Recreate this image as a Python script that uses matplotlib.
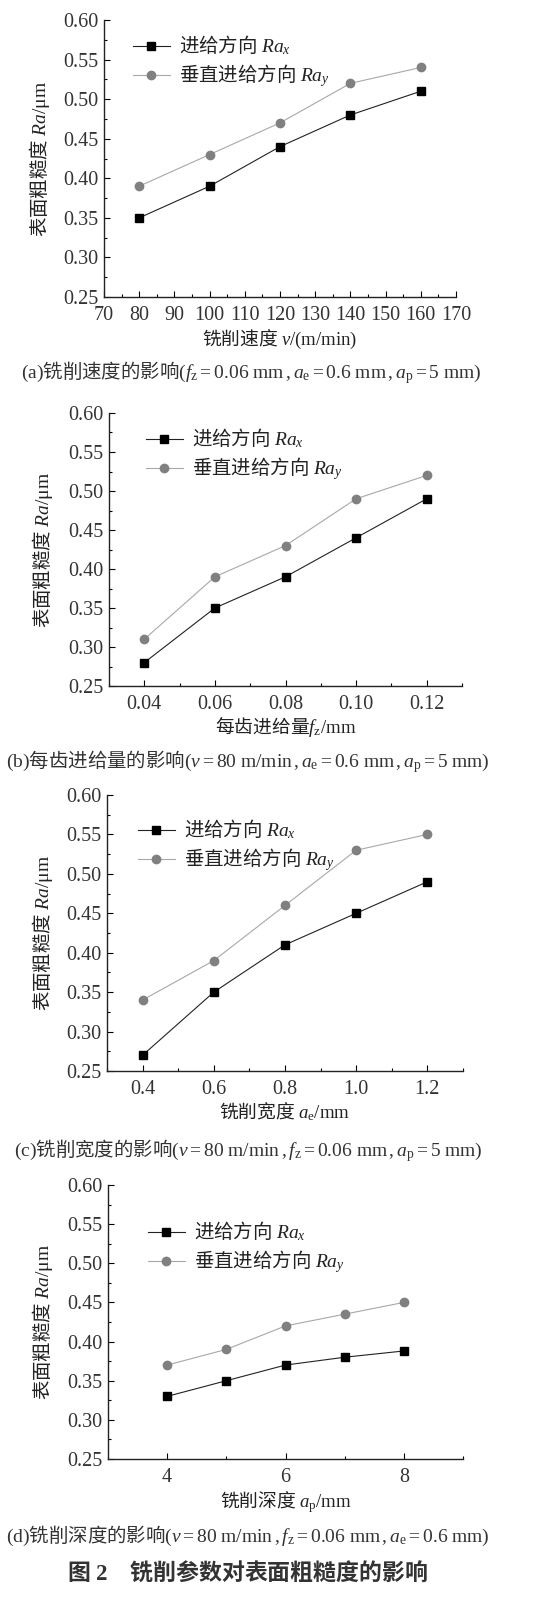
import matplotlib
matplotlib.use("Agg")
import matplotlib.pyplot as plt
from matplotlib.ticker import MultipleLocator, FormatStrFormatter

plt.rcParams['font.family'] = ['Noto Sans CJK SC', 'DejaVu Sans']
plt.rcParams['mathtext.fontset'] = 'custom'
plt.rcParams['mathtext.rm'] = 'Liberation Serif'
plt.rcParams['mathtext.it'] = 'Liberation Serif:italic'
plt.rcParams['mathtext.bf'] = 'Liberation Serif:bold'

# ---------------- data ----------------
v_speed = [80, 100, 120, 140, 160]
a_rax = [0.35, 0.39, 0.44, 0.48, 0.51]
a_ray = [0.39, 0.43, 0.47, 0.52, 0.54]

fz_feed = [0.04, 0.06, 0.08, 0.10, 0.12]
b_rax = [0.28, 0.35, 0.39, 0.44, 0.49]
b_ray = [0.31, 0.39, 0.43, 0.49, 0.52]

ae_width = [0.4, 0.6, 0.8, 1.0, 1.2]
c_rax = [0.27, 0.35, 0.41, 0.45, 0.49]
c_ray = [0.34, 0.39, 0.46, 0.53, 0.55]

ap_depth = [4, 5, 6, 7, 8]
d_rax = [0.33, 0.35, 0.37, 0.38, 0.388]
d_ray = [0.37, 0.39, 0.42, 0.435, 0.45]

legend_labels = ["进给方向 $Ra_x$", "垂直进给方向 $Ra_y$"]
ylabel_text = "表面粗糙度 $Ra\\mathrm{/μm}$"
xlabels = ["铣削速度 $v\\mathrm{/(m/min)}$",
           "每齿进给量$f_\\mathrm{z}\\mathrm{/mm}$",
           "铣削宽度 $a_\\mathrm{e}\\mathrm{/mm}$",
           "铣削深度 $a_\\mathrm{p}\\mathrm{/mm}$"]
captions = ["$\\mathrm{(a)}$铣削速度的影响$\\mathrm{(}f_\\mathrm{z}\\mathrm{=0.06\\ mm\\,,}a_\\mathrm{e}\\mathrm{=0.6\\ mm\\,,}a_\\mathrm{p}\\mathrm{=5\\ mm)}$",
            "$\\mathrm{(b)}$每齿进给量的影响$\\mathrm{(}v\\mathrm{=80\\ m/min\\,,}a_\\mathrm{e}\\mathrm{=0.6\\ mm\\,,}a_\\mathrm{p}\\mathrm{=5\\ mm)}$",
            "$\\mathrm{(c)}$铣削宽度的影响$\\mathrm{(}v\\mathrm{=80\\ m/min\\,,}f_\\mathrm{z}\\mathrm{=0.06\\ mm\\,,}a_\\mathrm{p}\\mathrm{=5\\ mm)}$",
            "$\\mathrm{(d)}$铣削深度的影响$\\mathrm{(}v\\mathrm{=80\\ m/min\\,,}f_\\mathrm{z}\\mathrm{=0.06\\ mm\\,,}a_\\mathrm{e}\\mathrm{=0.6\\ mm)}$"]
fig_title = "图 $\\mathbf{2}$　铣削参数对表面粗糙度的影响"

panels = [
    dict(x=v_speed, rx=a_rax, ry=a_ray, xlim=(70, 170), major=10, minor=5, fmt="%d",
         box=(104, 456, 20, 297), leg=(133, 34), ylab_x=40, xlab_y=339, cap=(251, 373)),
    dict(x=fz_feed, rx=b_rax, ry=b_ray, xlim=(0.03, 0.13), major=0.02, minor=0.01, fmt="%.2f",
         box=(109, 462, 413, 686), leg=(146, 427), ylab_x=43, xlab_y=727, cap=(248, 762)),
    dict(x=ae_width, rx=c_rax, ry=c_ray, xlim=(0.3, 1.3), major=0.2, minor=0.1, fmt="%.1f",
         box=(107, 463, 795, 1071), leg=(138, 818), ylab_x=43, xlab_y=1112, cap=(248, 1151)),
    dict(x=ap_depth, rx=d_rax, ry=d_ray, xlim=(3, 9), major=2, minor=1, fmt="%d",
         box=(108, 463, 1185, 1459), leg=(148, 1220), ylab_x=43, xlab_y=1502, cap=(248, 1536)),
]

W, H = 550, 1600
fig = plt.figure(figsize=(W / 100, H / 100), dpi=100)

for i, p in enumerate(panels):
    l, r, t, b = p["box"]
    ax = fig.add_axes([l / W, 1 - b / H, (r - l) / W, (b - t) / H])
    ax.plot(p["x"], p["rx"], color="#222222", lw=0.8, marker="s", ms=6,
            mfc="black", mec="black", label=legend_labels[0])
    ax.plot(p["x"], p["ry"], color="#a8a8a8", lw=0.8, marker="o", ms=6,
            mfc="#808080", mec="#808080", label=legend_labels[1])
    ax.set_xlim(*p["xlim"])
    ax.set_ylim(0.25, 0.60)
    ax.xaxis.set_major_locator(MultipleLocator(p["major"]))
    ax.xaxis.set_minor_locator(MultipleLocator(p["minor"]))
    ax.xaxis.set_major_formatter(FormatStrFormatter(p["fmt"]))
    ax.yaxis.set_major_locator(MultipleLocator(0.05))
    ax.yaxis.set_minor_locator(MultipleLocator(0.025))
    ax.yaxis.set_major_formatter(FormatStrFormatter("%.2f"))
    for s in ("top", "right"):
        ax.spines[s].set_visible(False)
    for s in ("left", "bottom"):
        ax.spines[s].set_linewidth(1.0)
        ax.spines[s].set_color("#222222")
    ax.tick_params(which="major", direction="in", length=4, width=0.8, labelsize=14.5)
    ax.tick_params(axis="y", which="major", pad=4)
    ax.tick_params(axis="x", which="major", pad=6.5)
    ax.tick_params(which="minor", direction="in", length=2, width=0.8)
    for lab in ax.get_xticklabels() + ax.get_yticklabels():
        lab.set_family("Liberation Serif")
        lab.set_color("#333333")
    ax.set_ylabel(ylabel_text, fontsize=14, color="#222222", va="center")
    ax.yaxis.set_label_coords((p["ylab_x"] - l) / (r - l), 0.5)
    ax.set_xlabel(xlabels[i], fontsize=13.5, color="#222222", va="center")
    ax.xaxis.set_label_coords(0.5, -(p["xlab_y"] - b) / (b - t))
    lx, ly = p["leg"]
    ax.legend(loc="upper left", bbox_to_anchor=((lx - l) / (r - l), 1 - (ly - t) / (b - t)),
              frameon=False, fontsize=14, borderpad=0, borderaxespad=0,
              handlelength=1.9, handletextpad=0.45, labelspacing=0.25, labelcolor="#222222")
    cx, cy = p["cap"]
    fig.text(cx / W, 1 - cy / H, captions[i], fontsize=14,
             ha="center", va="center", color="#333333")

fig.text(248 / W, 1 - 1572 / H, fig_title, fontsize=16.5, fontweight="bold",
         ha="center", va="center", color="#333333")

fig.savefig("out.png", dpi=100, facecolor="white")
